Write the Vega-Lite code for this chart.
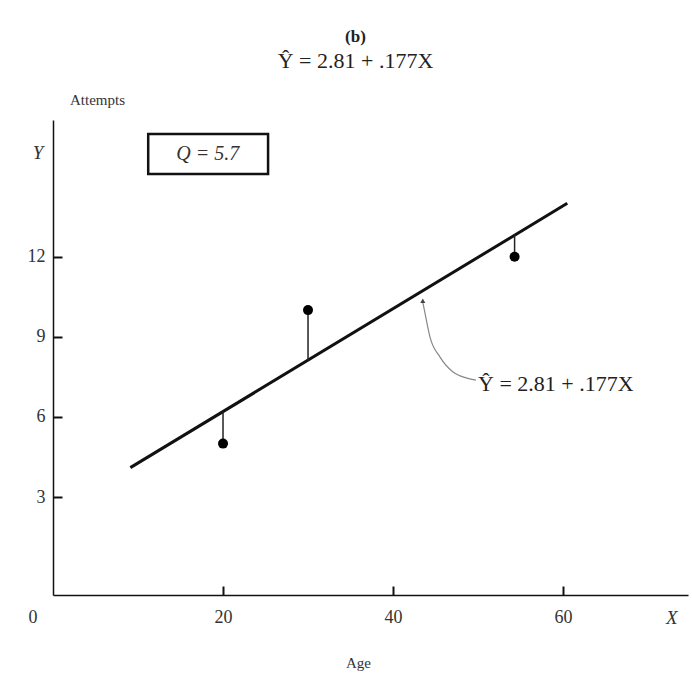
{
  "$schema": "https://vega.github.io/schema/vega-lite/v6.json",
  "width": 635,
  "height": 475,
  "autosize": {"type": "none"},
  "padding": {"left": 53, "top": 120, "right": 4, "bottom": 79},
  "background": "white",
  "view": {"stroke": null},
  "title": {
    "text": "(b)",
    "subtitle": "Ŷ = 2.81 + .177X",
    "anchor": "middle",
    "frame": "group",
    "dx": -15,
    "offset": 19,
    "font": "Liberation Serif",
    "fontSize": 17,
    "fontWeight": "bold",
    "color": "#222",
    "subtitleFont": "Liberation Serif",
    "subtitleFontSize": 22,
    "subtitleColor": "#222",
    "subtitlePadding": 5
  },
  "config": {
    "axis": {
      "grid": false,
      "ticks": true,
      "tickColor": "#111",
      "tickWidth": 2,
      "domainColor": "#111",
      "domainWidth": 1.5,
      "labelFont": "Liberation Serif",
      "labelFontSize": 18,
      "labelColor": "#333",
      "titleFont": "Liberation Serif",
      "titleFontSize": 15,
      "titleFontWeight": "normal",
      "titleColor": "#333"
    }
  },
  "datasets": {
    "obs": [
      {"age": 20, "attempts": 5, "fitted": 6.2},
      {"age": 30, "attempts": 10, "fitted": 8.12},
      {"age": 54.3, "attempts": 12, "fitted": 12.84}
    ],
    "fitline": [
      {"age": 9.1, "attempts": 4.1},
      {"age": 60.5, "attempts": 14.0}
    ],
    "pointer": [
      {"age": 43.5, "attempts": 10.3, "k": 1},
      {"age": 43.76, "attempts": 9.89, "k": 2},
      {"age": 44.35, "attempts": 8.99, "k": 3},
      {"age": 45.53, "attempts": 8.24, "k": 4},
      {"age": 47.06, "attempts": 7.68, "k": 5},
      {"age": 48.7, "attempts": 7.45, "k": 6},
      {"age": 49.76, "attempts": 7.38, "k": 7}
    ],
    "qbox": [
      {"x1": 11.2, "x2": 25.3, "y1": 15.1, "y2": 16.6}
    ]
  },
  "layer": [
    {
      "data": {"name": "fitline"},
      "mark": {"type": "line", "color": "#111", "strokeWidth": 3},
      "encoding": {
        "x": {
          "field": "age", "type": "quantitative",
          "scale": {"domain": [0, 74.7], "nice": false, "zero": false},
          "axis": {"values": [20, 40, 60], "tickSize": -9, "labelPadding": 22, "title": "Age", "titleX": 305, "titleY": 60, "titleAnchor": null}
        },
        "y": {
          "field": "attempts", "type": "quantitative",
          "scale": {"domain": [-0.67, 17.12], "nice": false, "zero": false},
          "axis": {"values": [3, 6, 9, 12], "tickSize": -9, "labelPadding": 17, "title": "Attempts", "titleAngle": 0, "titleX": 44, "titleY": -21, "titleAlign": "center", "titleBaseline": "middle"}
        }
      }
    },
    {
      "data": {"name": "qbox"},
      "mark": {"type": "rect", "fill": null, "stroke": "#111", "strokeWidth": 2.5},
      "encoding": {
        "x": {"field": "x1", "type": "quantitative"},
        "x2": {"field": "x2"},
        "y": {"field": "y1", "type": "quantitative"},
        "y2": {"field": "y2"}
      }
    },
    {
      "data": {"values": [{"age": 18.2, "attempts": 15.85, "label": "Q = 5.7"}]},
      "mark": {"type": "text", "font": "Liberation Serif", "fontStyle": "italic", "fontSize": 20, "color": "#333", "align": "center", "baseline": "middle"},
      "encoding": {
        "x": {"field": "age", "type": "quantitative"},
        "y": {"field": "attempts", "type": "quantitative"},
        "text": {"field": "label"}
      }
    },
    {
      "data": {"name": "obs"},
      "mark": {"type": "rule", "color": "#222", "strokeWidth": 1.5},
      "encoding": {
        "x": {"field": "age", "type": "quantitative"},
        "y": {"field": "attempts", "type": "quantitative"},
        "y2": {"field": "fitted"}
      }
    },
    {
      "data": {"name": "obs"},
      "mark": {"type": "point", "filled": true, "shape": "circle", "size": 100, "color": "#000", "opacity": 1},
      "encoding": {
        "x": {"field": "age", "type": "quantitative"},
        "y": {"field": "attempts", "type": "quantitative"}
      }
    },
    {
      "data": {"name": "pointer"},
      "mark": {"type": "line", "color": "#888", "strokeWidth": 1.2, "interpolate": "monotone"},
      "encoding": {
        "x": {"field": "age", "type": "quantitative"},
        "y": {"field": "attempts", "type": "quantitative"},
        "order": {"field": "k"}
      }
    },
    {
      "data": {"values": [{"age": 43.5, "attempts": 10.35}]},
      "mark": {"type": "point", "shape": "triangle-up", "filled": true, "size": 25, "color": "#444", "opacity": 1},
      "encoding": {
        "x": {"field": "age", "type": "quantitative"},
        "y": {"field": "attempts", "type": "quantitative"}
      }
    },
    {
      "data": {"values": [{"age": 50.0, "attempts": 7.25, "label": "Ŷ = 2.81 + .177X"}]},
      "mark": {"type": "text", "font": "Liberation Serif", "fontSize": 22, "color": "#222", "align": "left", "baseline": "middle"},
      "encoding": {
        "x": {"field": "age", "type": "quantitative"},
        "y": {"field": "attempts", "type": "quantitative"},
        "text": {"field": "label"}
      }
    },
    {
      "data": {"values": [
        {"age": -1.76, "attempts": 15.9, "label": "Y"},
        {"age": 72.8, "attempts": -1.54, "label": "X"}
      ]},
      "mark": {"type": "text", "font": "Liberation Serif", "fontStyle": "italic", "fontSize": 19, "color": "#333", "align": "center", "baseline": "middle"},
      "encoding": {
        "x": {"field": "age", "type": "quantitative"},
        "y": {"field": "attempts", "type": "quantitative"},
        "text": {"field": "label"}
      }
    },
    {
      "data": {"values": [{"age": -2.35, "attempts": -1.54, "label": "0"}]},
      "mark": {"type": "text", "font": "Liberation Serif", "fontSize": 18, "color": "#333", "align": "center", "baseline": "middle"},
      "encoding": {
        "x": {"field": "age", "type": "quantitative"},
        "y": {"field": "attempts", "type": "quantitative"},
        "text": {"field": "label"}
      }
    }
  ]
}
